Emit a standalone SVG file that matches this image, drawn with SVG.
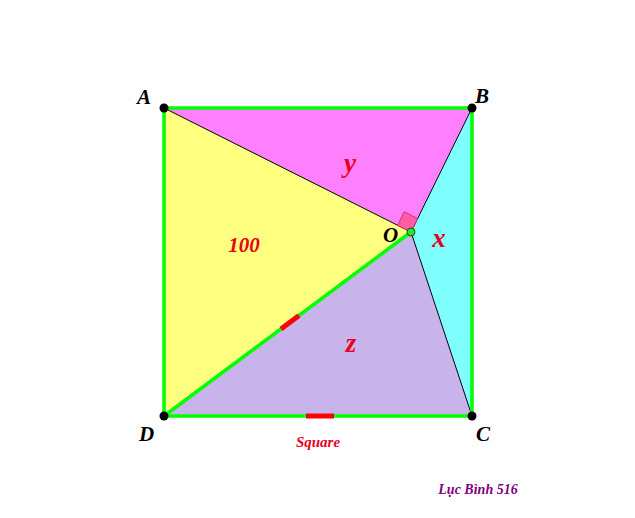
<svg xmlns="http://www.w3.org/2000/svg" width="635" height="518" viewBox="0 0 635 518">
<style>
.lbl{font-family:"Liberation Serif",serif;font-weight:bold;font-style:italic;font-size:21px;fill:#000}
.var{font-family:"Liberation Serif",serif;font-weight:bold;font-style:italic;font-size:27px;fill:#e8001c;text-anchor:middle}
.pt{fill:#000}
.side{stroke:#00ff00;stroke-width:3.5;fill:none;stroke-linecap:round}
.thin{stroke:#000;stroke-width:1;fill:none}
.tick{stroke:#ff0000;stroke-width:5;stroke-linecap:butt}
</style>
<rect width="635" height="518" fill="#fff"/>
<g id="regions">
<polygon points="164,108 472,108 411,232" fill="#ff80ff"/>
<polygon points="164,108 411,232 164,416" fill="#ffff80"/>
<polygon points="472,108 472,416 411,232" fill="#80ffff"/>
<polygon points="164,416 411,232 472,416" fill="#c8b4ea"/>
</g>
<g id="connectors">
<line class="thin" x1="164" y1="108" x2="411" y2="232"/>
<line class="thin" x1="472" y1="108" x2="411" y2="232"/>
<line class="thin" x1="472" y1="416" x2="411" y2="232"/>
<polyline class="side" points="164,108 472,108 472,416 164,416 164,108"/>
<line class="side" x1="164" y1="416" x2="411" y2="232"/>
<polygon points="397.6,225.3 404.2,211.8 417.6,218.5 411,232" fill="#ff5ca8" stroke="#e0306a" stroke-width="1"/>
<line class="tick" x1="281" y1="329" x2="299" y2="315.5"/>
<line class="tick" x1="306" y1="416" x2="334" y2="416"/>
</g>
<g id="A"><circle class="pt" cx="164" cy="108" r="4.5"/><text class="lbl" x="137" y="104">A</text></g>
<g id="B"><circle class="pt" cx="472" cy="108" r="4.5"/><text class="lbl" x="475" y="103">B</text></g>
<g id="C"><circle class="pt" cx="472" cy="416" r="4.5"/><text class="lbl" x="476" y="441">C</text></g>
<g id="D"><circle class="pt" cx="164" cy="416" r="4.5"/><text class="lbl" x="139" y="441">D</text></g>
<g id="O"><circle cx="411" cy="232" r="4" fill="#33dd33" stroke="#006600" stroke-width="1"/><text class="lbl" x="383" y="242">O</text></g>
<text class="var" x="350" y="172">y</text>
<text class="var" x="439" y="247">x</text>
<text class="var" x="351" y="352">z</text>
<text class="var" x="244" y="252" style="font-size:21px">100</text>
<text x="318" y="447" style="font-family:'Liberation Serif',serif;font-weight:bold;font-style:italic;font-size:15px;fill:#e8001c;text-anchor:middle">Square</text>
<text x="478" y="494" style="font-family:'Liberation Serif',serif;font-weight:bold;font-style:italic;font-size:14px;fill:#800080;text-anchor:middle">Lục Bình 516</text>
</svg>
